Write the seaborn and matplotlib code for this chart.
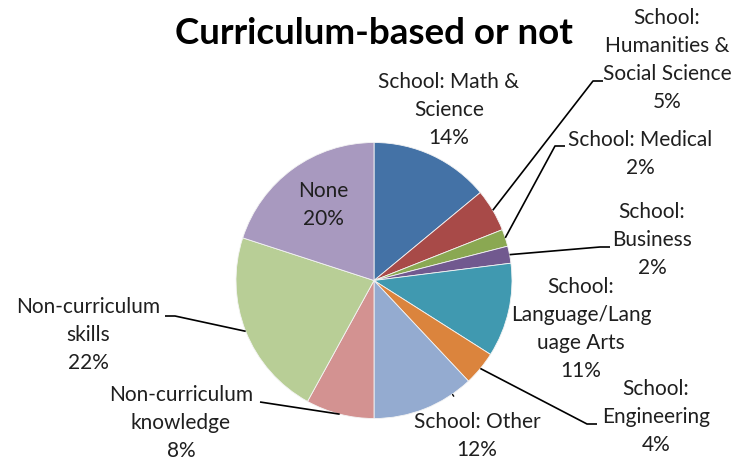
import matplotlib
matplotlib.use("Agg")
import matplotlib.pyplot as plt
import seaborn as sns
import numpy as np

# ---- data ----
categories = ["School: Math &\nScience", "School:\nHumanities &\nSocial Science", "School: Medical",
              "School:\nBusiness", "School:\nLanguage/Lang\nuage Arts", "School:\nEngineering",
              "School: Other", "Non-curriculum\nknowledge", "Non-curriculum\nskills", "None"]
values = [14, 5, 2, 2, 11, 4, 12, 8, 22, 20]
colors_hex = ["#4472A6", "#A84A48", "#8AA852", "#71598F", "#4099B0", "#DB843D",
              "#94ABD0", "#D39291", "#B8CE96", "#A899BF"]
title = "Curriculum-based or not"

sns.set_theme(style="white")
plt.rcParams['font.family'] = ['Lato', 'DejaVu Sans']

W, H = 736, 461
fig = plt.figure(figsize=(W / 100, H / 100), dpi=100)
ax = fig.add_axes([0, 0, 1, 1])

def Y(y):
    return H - y

cx, cy, R = 374, Y(280.5), 138
palette = sns.color_palette(colors_hex)
wedges, _ = ax.pie(values, colors=palette, startangle=90, counterclock=False,
                   center=(cx, cy), radius=R,
                   wedgeprops=dict(edgecolor="#f4f4f4", linewidth=0.6))
ax.set_xlim(0, W)
ax.set_ylim(0, H)
ax.set_aspect("equal")
ax.axis("off")

txt_col = "#1f1f1f"
fs = 15
ls = 1.5
# label layout: (x center, y center in image px)
label_pos = [(449, 110), (667, 60), (640, 154), (652, 240), (581, 329),
             (656, 417), (477, 436), (181, 423), (88, 335), (323, 205)]
for i, (cat, v) in enumerate(zip(categories, values)):
    x, y = label_pos[i]
    ax.text(x, Y(y), f"{cat}\n{v}%", ha="center", va="center", fontsize=fs,
            color=txt_col, linespacing=ls)

# leader lines: wedge index -> (elbow, end) in image px
leaders = {1: [(593, 81), (603, 81)],
           2: [(555, 146), (565, 146)],
           3: [(600, 247), (610, 247)],
           5: [(587, 424), (597, 424)],
           7: [(260, 402)],
           8: [(175, 316), (165, 316)]}
for i, pts in leaders.items():
    w = wedges[i]
    mid = np.deg2rad((w.theta1 + w.theta2) / 2)
    x0, y0 = cx + R * np.cos(mid), cy + R * np.sin(mid)
    xs = [x0] + [p[0] for p in pts]
    ys = [y0] + [Y(p[1]) for p in pts]
    ax.plot(xs, ys, color="black", linewidth=1.2, solid_capstyle="butt")

# tiny tick for "School: Other"
w = wedges[6]
mid = np.deg2rad(w.theta1 + 0.8 * (w.theta2 - w.theta1))
ax.plot([cx + (R + 0.5) * np.cos(mid), cx + (R + 2.5) * np.cos(mid)],
        [cy + (R + 0.5) * np.sin(mid), cy + (R + 2.5) * np.sin(mid)],
        color="black", linewidth=1.0)

ax.text(374, Y(34), title, ha="center", va="center", fontsize=26.5,
        fontweight="bold", color="black")

fig.savefig("out.png", dpi=100)
